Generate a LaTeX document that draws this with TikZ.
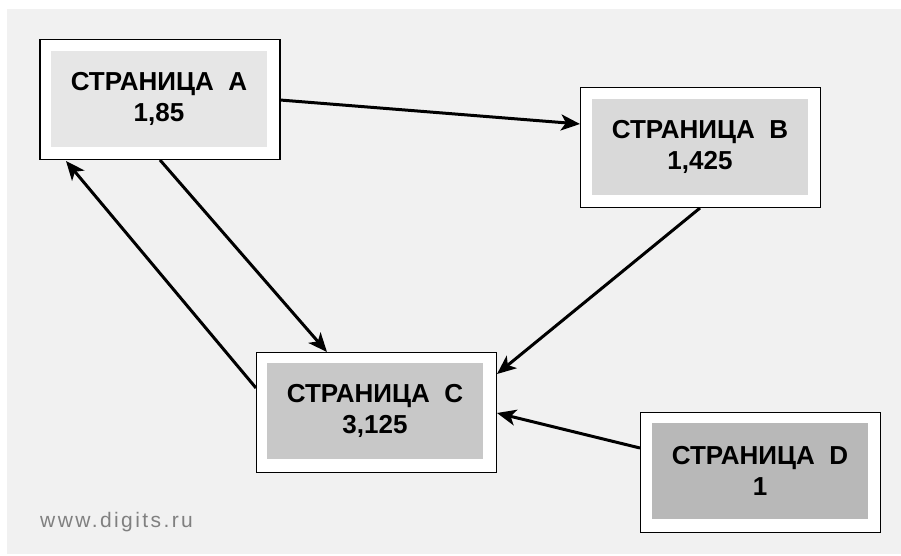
\documentclass[tikz,border=0pt]{standalone}
\usepackage{fontspec}
\setmainfont{Liberation Sans}
\usetikzlibrary{arrows.meta}
\definecolor{bgc}{HTML}{F1F1F1}
\definecolor{ca}{HTML}{E6E6E6}
\definecolor{cb}{HTML}{D9D9D9}
\definecolor{cc}{HTML}{C8C8C8}
\definecolor{cd}{HTML}{B8B8B8}
\definecolor{wc}{HTML}{808080}
\begin{document}
\begin{tikzpicture}[x=1pt,y=-1pt,
  outerbox/.style={draw=black,line width=1.8pt,fill=white,minimum width=240pt,minimum height=120pt,inner sep=0pt},
  innerbox/.style={fill=#1,minimum width=216pt,minimum height=96pt,inner sep=0pt,align=center,
     font=\fontsize{26}{31}\selectfont\bfseries},
  conn/.style={line width=3pt,-{Stealth[length=19pt,width=16pt,inset=5pt]}},
]
\useasboundingbox (0,0) rectangle (901,555);
\fill[bgc] (7,9) rectangle (901,554);
% boxes
\node[outerbox] (A) at (160,99.5) {};
\node[innerbox=ca] (Ai) at (159,99) {СТРАНИЦА\ \ A\\1,85};
\node[outerbox] (B) at (700.5,147.5) {};
\node[innerbox=cb] (Bi) at (700,147) {СТРАНИЦА\ \ B\\1,425};
\node[outerbox] (C) at (376.5,412.5) {};
\node[innerbox=cc] (Ci) at (375,411) {СТРАНИЦА\ \ C\\3,125};
\node[outerbox] (D) at (760.5,472.5) {};
\node[innerbox=cd] (Di) at (760,471) {СТРАНИЦА\ \ D\\1};
% anchor coordinates
\coordinate (a1) at (280,100);
\coordinate (b1) at (580,124);
\coordinate (a2) at (160,160);
\coordinate (c1) at (327,352);
\coordinate (c2) at (256,388);
\coordinate (a3) at (66,161);
\coordinate (b2) at (700,208);
\coordinate (c3) at (497,374);
\coordinate (d1) at (640,448);
\coordinate (c4) at (497,413);
\draw[conn] (a1) -- (b1);
\draw[conn] (a2) -- (c1);
\draw[conn] (c2) -- (a3);
\draw[conn] (b2) -- (c3);
\draw[conn] (d1) -- (c4);
\node[anchor=base west,text=wc,font=\fontsize{21}{24}\selectfont\addfontfeatures{LetterSpace=11.5},inner sep=0pt] (w) at (40,527) {www.digits.ru};
\end{tikzpicture}
\end{document}
